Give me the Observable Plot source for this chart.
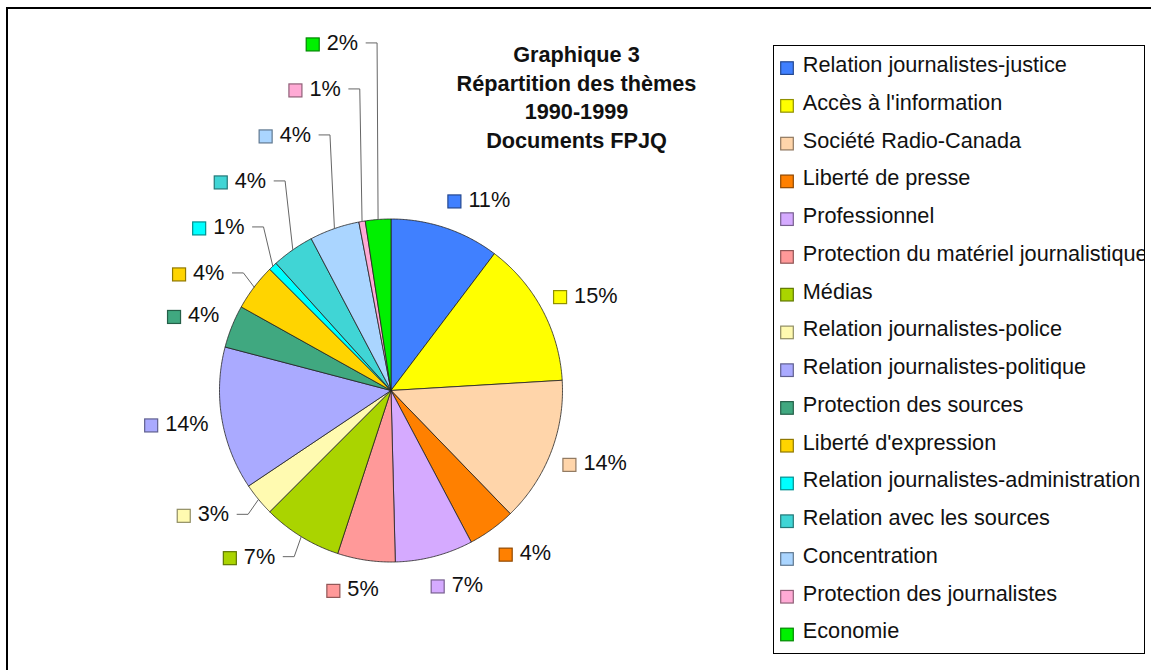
<!DOCTYPE html>
<html><head><meta charset="utf-8">
<script src="https://cdn.jsdelivr.net/npm/d3@7"></script>
<script src="https://cdn.jsdelivr.net/npm/@observablehq/plot@0.6"></script>
<style>
html,body{margin:0;padding:0;background:#fff;}
#wrap{position:relative;width:1151px;height:670px;overflow:hidden;font-family:'Liberation Sans',Arial,sans-serif;background:#fff;}
#main{position:absolute;left:0;top:0;}
#border{position:absolute;left:6px;top:7px;width:1300px;height:800px;border-left:2px solid #000;border-top:2px solid #000;pointer-events:none;}
#legend{position:absolute;left:772px;top:44px;}
</style></head><body>
<div id="wrap"><div id="main"></div><div id="border"></div><div id="legend"></div></div>
<script>
// ---- data ----
const categories = [
  "Relation journalistes-justice",
  "Accès à l'information",
  "Société Radio-Canada",
  "Liberté de presse",
  "Professionnel",
  "Protection du matériel journalistique",
  "Médias",
  "Relation journalistes-police",
  "Relation journalistes-politique",
  "Protection des sources",
  "Liberté d'expression",
  "Relation journalistes-administration",
  "Relation avec les sources",
  "Concentration",
  "Protection des journalistes",
  "Economie"
];
// slice shares as drawn in the picture (percent of the pie)
const shares = [10.3, 13.75, 13.71, 4.49, 7.35, 5.43, 7.47, 3.1, 13.48, 4.02, 4.4, 0.8, 4.0, 4.7, 0.6, 2.4];
// data labels as printed
const pctLabels = ["11%", "15%", "14%", "4%", "7%", "5%", "7%", "3%", "14%", "4%", "4%", "1%", "4%", "4%", "1%", "2%"];
const colors = ["#4080FF", "#FFFF00", "#FFD5AA", "#FF8000", "#D5AAFF", "#FF9999", "#AAD400", "#FFFAB0",
                "#AAAAFF", "#40A880", "#FFD400", "#00FFFF", "#40D5D5", "#AAD5FF", "#FFAAD5", "#00F000"];
const titleLines = ["Graphique 3", "Répartition des thèmes", "1990-1999", "Documents FPJQ"];

// ---- layout ----
const W = 1151, H = 670;
const cx = 390.5, cy = 390, R = 171.5;
const RLx = 185, RLy = 195;
const fs = 21.7;
const stackGap = 46;
const font = "Liberation Sans";
const dark = c => d3.color(c).darker(1.6).formatHex();

const arcs = d3.pie().sort(null).value(d => d)(shares);
const polar = (a, rx, ry = rx) => [cx + rx * Math.sin(a), cy - ry * Math.cos(a)];

const slicePts = [];
arcs.forEach((a, i) => {
  const n = Math.max(2, Math.ceil((a.endAngle - a.startAngle) / (Math.PI / 360)));
  slicePts.push({i, x: cx, y: cy});
  for (let k = 0; k <= n; k++) {
    const t = a.startAngle + (a.endAngle - a.startAngle) * k / n;
    const [x, y] = polar(t, R);
    slicePts.push({i, x, y});
  }
  slicePts.push({i, x: cx, y: cy});
});

const ctx = document.createElement("canvas").getContext("2d");
ctx.font = `${fs}px "${font}"`;
const sw = 13, swGap = 20;
let prevUpper = null;
const labelRows = arcs.map((a, i) => {
  const m = (a.startAngle + a.endAngle) / 2;
  const ux = Math.sin(m), uy = -Math.cos(m);
  const ex = cx + RLx * ux, ey = cy + RLy * uy;
  const tw = ctx.measureText(pctLabels[i]).width;
  const bw = swGap + tw;
  const leader = ux < 0 && Math.abs(uy) > 0.5 && (uy < 0 || ux < -0.3);
  let left, yc, pts = null;
  if (leader) {
    yc = ey;
    if (uy < 0) {
      if (prevUpper != null) yc = Math.min(yc, prevUpper - stackGap);
      prevUpper = yc;
    }
    const right = ex - 19;
    left = right - bw;
    const [rx, ry] = polar(m, R);
    pts = [[right + 8, yc], [ex, yc], [rx, ry]];
  } else {
    const fx = Math.max(-1, Math.min(1, ux * 3));
    left = ex + fx * bw / 2 - bw / 2;
    yc = ey + uy * 6;
  }
  return {i, left, yc, pts, label: pctLabels[i]};
});
const leaderPts = labelRows.filter(d => d.pts).flatMap(d => d.pts.map(([x, y]) => ({i: d.i, x, y})));

const titleX = 576, titleY0 = 54.7, titleStep = 28.65;

const main = Plot.plot({
  width: W, height: H, margin: 0,
  x: {domain: [0, W], range: [0, W], axis: null},
  y: {domain: [0, H], range: [0, H], axis: null},
  color: {type: "identity"},
  style: {fontFamily: font, background: "transparent"},
  marks: [
    Plot.line(slicePts, {x: "x", y: "y", z: "i", fill: d => colors[d.i], stroke: "#222", strokeWidth: 0.8, curve: "linear"}),
    Plot.line(leaderPts, {x: "x", y: "y", z: "i", stroke: "#666", strokeWidth: 1}),
    Plot.rect(labelRows, {x1: d => d.left, x2: d => d.left + sw, y1: d => d.yc + 2 - sw / 2, y2: d => d.yc + 2 + sw / 2,
      fill: d => colors[d.i], stroke: d => dark(colors[d.i]), strokeWidth: 1.2}),
    Plot.text(labelRows, {x: d => d.left + swGap, y: d => d.yc, text: "label", textAnchor: "start", fontSize: fs, fill: "#111"}),
    Plot.text(titleLines, {x: () => titleX, y: (d, i) => titleY0 + i * titleStep, text: d => d, fontSize: fs, fontWeight: "bold", fill: "#111"})
  ]
});
document.getElementById("main").append(main);

// ---- legend ----
const LW = 373, LH = 610;
const legRows = categories.map((name, i) => ({i, name}));
const legY0 = 20.6, legStep = 37.76, lsw = 12.6;
const legend = Plot.plot({
  width: LW, height: LH, marginTop: 1, marginLeft: 1, marginRight: 1, marginBottom: 1,
  x: {domain: [0, LW], range: [0, LW], axis: null},
  y: {domain: [0, LH], range: [0, LH], axis: null},
  color: {type: "identity"},
  style: {fontFamily: font, background: "#fff"},
  marks: [
    Plot.rect(legRows, {x1: () => 8.7, x2: () => 8.7 + lsw, y1: d => legY0 + 3.5 + d.i * legStep - lsw / 2, y2: d => legY0 + 3.5 + d.i * legStep + lsw / 2,
      fill: d => colors[d.i], stroke: d => dark(colors[d.i]), strokeWidth: 1.2}),
    Plot.text(legRows, {x: () => 30.3, y: d => legY0 + d.i * legStep, text: "name", textAnchor: "start", fontSize: fs, fill: "#111", clip: true}),
    Plot.frame({stroke: "#000", strokeWidth: 1})
  ]
});
document.getElementById("legend").append(legend);
</script>
</body></html>
